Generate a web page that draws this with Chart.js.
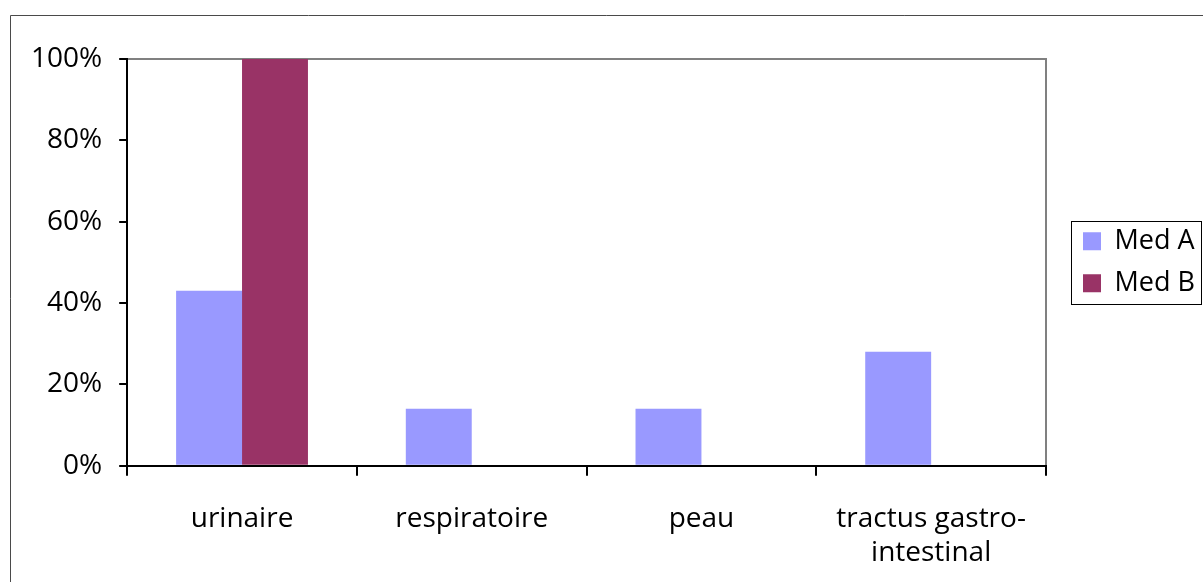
<!DOCTYPE html>
<html>
<head>
<meta charset="utf-8">
<script src="https://cdn.jsdelivr.net/npm/chart.js@4/dist/chart.umd.min.js"></script>
<style>
  html, body { margin: 0; padding: 0; background: #fff; }
  #wrap { width: 1203px; height: 582px; }
</style>
</head>
<body>
<div id="wrap"><canvas id="chart" width="1203" height="582"></canvas></div>
<script>
// chart data
const categories = ['urinaire', 'respiratoire', 'peau', ['tractus gastro-', 'intestinal']];
const medA = [43, 14, 14, 28];
const medB = [100, 0, 0, 0];
const yTicks = [0, 20, 40, 60, 80, 100];

// frame around the whole chart, plot border and legend box
const framePlugin = {
  id: 'frames',
  beforeDraw(chart) {
    const ctx = chart.ctx;
    const a = chart.chartArea;
    ctx.save();
    ctx.strokeStyle = '#4a4a4a';
    ctx.lineWidth = 1;
    ctx.beginPath();
    ctx.moveTo(10.5, 582);
    ctx.lineTo(10.5, 15.5);
    ctx.lineTo(1203, 15.5);
    ctx.stroke();
    ctx.strokeStyle = '#808080';
    ctx.lineWidth = 2;
    ctx.beginPath();
    ctx.moveTo(a.left, a.top);
    ctx.lineTo(a.right, a.top);
    ctx.lineTo(a.right, a.bottom);
    ctx.stroke();
    ctx.restore();
  },
  afterDraw(chart) {
    const lg = chart.legend;
    if (!lg || !lg.legendHitBoxes.length) return;
    const boxes = lg.legendHitBoxes;
    const first = boxes[0];
    const last = boxes[boxes.length - 1];
    const top = first.top + first.height / 2 - 20;
    const bottom = last.top + last.height / 2 + 21;
    const left = Math.min(...boxes.map(b => b.left)) - 12;
    const ctx = chart.ctx;
    ctx.save();
    ctx.strokeStyle = '#000';
    ctx.lineWidth = 1;
    ctx.strokeRect(Math.round(left) + 0.5, Math.round(top) + 0.5, 1201 - Math.round(left), Math.round(bottom - top));
    ctx.restore();
  }
};

const fontFam = '"Open Sans", "DejaVu Sans", sans-serif';

new Chart(document.getElementById('chart').getContext('2d'), {
  type: 'bar',
  data: {
    labels: categories,
    datasets: [{
      label: 'Med A',
      data: medA,
      backgroundColor: '#9999ff',
      borderWidth: 0
    }, {
      label: 'Med B',
      data: medB,
      backgroundColor: '#993366',
      borderWidth: 0
    }]
  },
  options: {
    responsive: false,
    animation: false,
    devicePixelRatio: 1,
    categoryPercentage: 0.574,
    barPercentage: 1,
    layout: {
      padding: { left: 14, top: 59, right: 0, bottom: -14 }
    },
    plugins: {
      tooltip: { enabled: false },
      legend: {
        position: 'right',
        fullSize: false,
        maxWidth: 135,
        labels: {
          boxWidth: 18,
          boxHeight: 18,
          padding: 15,
          color: '#000',
          font: { family: fontFam, size: 27 }
        }
      }
    },
    scales: {
      x: {
        grid: {
          drawOnChartArea: false,
          drawTicks: true,
          tickLength: 10,
          color: '#000',
          lineWidth: 2
        },
        border: { color: '#000', width: 2 },
        ticks: {
          color: '#000',
          padding: 26,
          maxRotation: 0,
          autoSkip: false,
          font: { family: fontFam, size: 28, lineHeight: 1.22 }
        }
      },
      y: {
        min: 0,
        max: 100,
        afterBuildTicks(axis) {
          axis.ticks = yTicks.map(v => ({ value: v }));
        },
        grid: {
          drawOnChartArea: false,
          drawTicks: true,
          tickLength: 8,
          color: '#000',
          lineWidth: 2
        },
        border: { color: '#000', width: 2 },
        ticks: {
          color: '#000',
          padding: 17,
          font: { family: fontFam, size: 28 },
          callback: v => v + '%'
        }
      },
      // empty spacer between plot area and legend
      gap: {
        type: 'linear',
        axis: 'y',
        position: 'right',
        grid: { display: false },
        border: { display: false },
        ticks: { display: false },
        afterFit(axis) { axis.width = 22; }
      }
    }
  },
  plugins: [framePlugin]
});
</script>
</body>
</html>
